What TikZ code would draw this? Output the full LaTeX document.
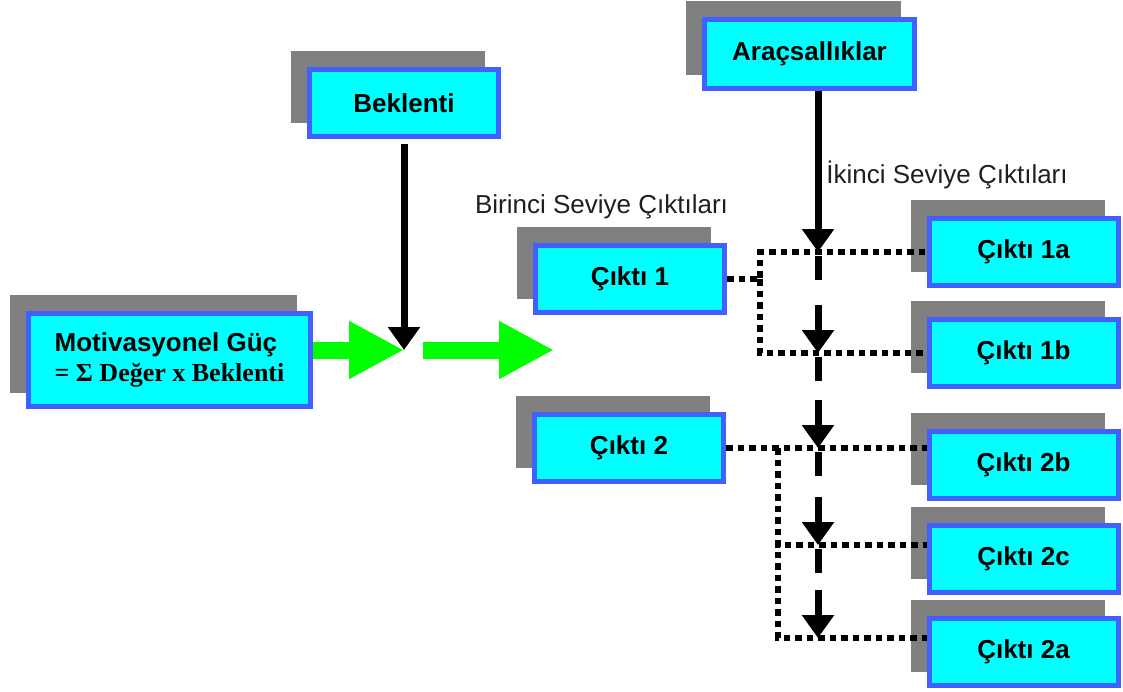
\documentclass[tikz,border=0pt]{standalone}
\usepackage{fontspec}
\setmainfont{Liberation Sans}
\newfontfamily\timesfont{Liberation Serif}
\usetikzlibrary{arrows.meta,shadows,calc}

\definecolor{boxblue}{RGB}{64,96,255}
\definecolor{boxcyan}{RGB}{0,255,255}
\definecolor{shgray}{RGB}{128,128,128}
\definecolor{arrgreen}{RGB}{0,255,0}

\begin{document}
\begin{tikzpicture}[
  x=1pt, y=-1pt,
  font=\fontsize{26}{30}\selectfont,
  bx/.style={draw=boxblue, line width=5pt, fill=boxcyan, inner sep=0pt,
             font=\fontsize{26}{30}\selectfont\bfseries,
             minimum width=189pt, minimum height=67pt,
             drop shadow={shadow xshift=-16pt, shadow yshift=16pt, opacity=1,
                          fill=shgray, draw=shgray}},
  lab/.style={text=black!88, inner sep=0pt},
  dotl/.style={line width=6pt, dash pattern=on 6.5pt off 5pt},
  blk/.style={-{Triangle[width=31pt,length=23pt]}, line width=7pt, draw=black},
  stub/.style={line width=7pt, draw=black},
  garr/.style={-{Triangle[width=54pt,length=55pt]}, line width=17pt, draw=arrgreen}
]
\useasboundingbox (0,0) rectangle (1123,691);

% ---------------- boxes ----------------
\node[bx, minimum width=282pt, minimum height=93pt, align=left] (mot) at (169.5,360)
  {Motivasyonel Güç\\{\timesfont\bfseries = Σ Değer x Beklenti}};
\node[bx] (bek) at (404,103) {Beklenti};
\node[bx, minimum width=210pt, minimum height=69pt] (ara) at (809.5,54) {Araçsallıklar};

\node[bx] (c1) at (630,279) {Çıktı 1};
\node[bx] (c2) at (629,448) {Çıktı 2};

\node[bx] (c1a) at (1023.5,252) {Çıktı 1a};
\node[bx] (c1b) at (1023.5,353) {Çıktı 1b};
\node[bx] (c2b) at (1023.5,465) {Çıktı 2b};
\node[bx] (c2c) at (1023.5,559) {Çıktı 2c};
\node[bx] (c2a) at (1023.5,652) {Çıktı 2a};

\node[lab] (lab1) at (601.5,207) {Birinci Seviye Çıktıları};
\node[lab] (lab2) at (947,175) {İkinci Seviye Çıktıları};

% ---------------- dotted links ----------------
\coordinate (e2c) at ($(c2c.west)+(0,-14)$);
\coordinate (e2a) at ($(c2a.west)+(0,-14)$);

\draw[dotl] (c1.east) -- ++(33,0) coordinate (j1) |- (c1a.west);
\draw[dotl] (j1) |- (c1b.west);
\draw[dotl] (c2.east) -- (c2.east -| c2b.west);
\draw[dotl] (c2.east) ++(52,0) coordinate (j2) |- (e2c);
\draw[dotl] (j2) |- (e2a);

% ---------------- instrumentality arrows ----------------
\coordinate (col) at (818,0);
\coordinate (t1a) at (col |- c1a.west);
\coordinate (t1b) at (col |- c1b.west);
\coordinate (t2b) at (col |- c2.east);
\coordinate (t2c) at (col |- e2c);
\coordinate (t2a) at (col |- e2a);

\draw[blk] (col |- ara.south) -- (t1a);
\foreach \a/\b in {t1a/t1b, t1b/t2b, t2b/t2c, t2c/t2a} {
  \draw[stub] ([yshift=-4pt]\a) -- ([yshift=-28pt]\a);
  \draw[blk] ([yshift=48pt]\b) -- (\b);
}

% ---------------- expectancy and force ----------------
\coordinate (meet) at (404,350);
\coordinate (gout) at (554,350);
\draw[blk, shorten <=5pt] (bek.south) -- (meet);
\draw[garr] (mot.east |- meet) -- (meet);
\draw[garr] ([xshift=19pt]meet) -- (gout);

\end{tikzpicture}
\end{document}
